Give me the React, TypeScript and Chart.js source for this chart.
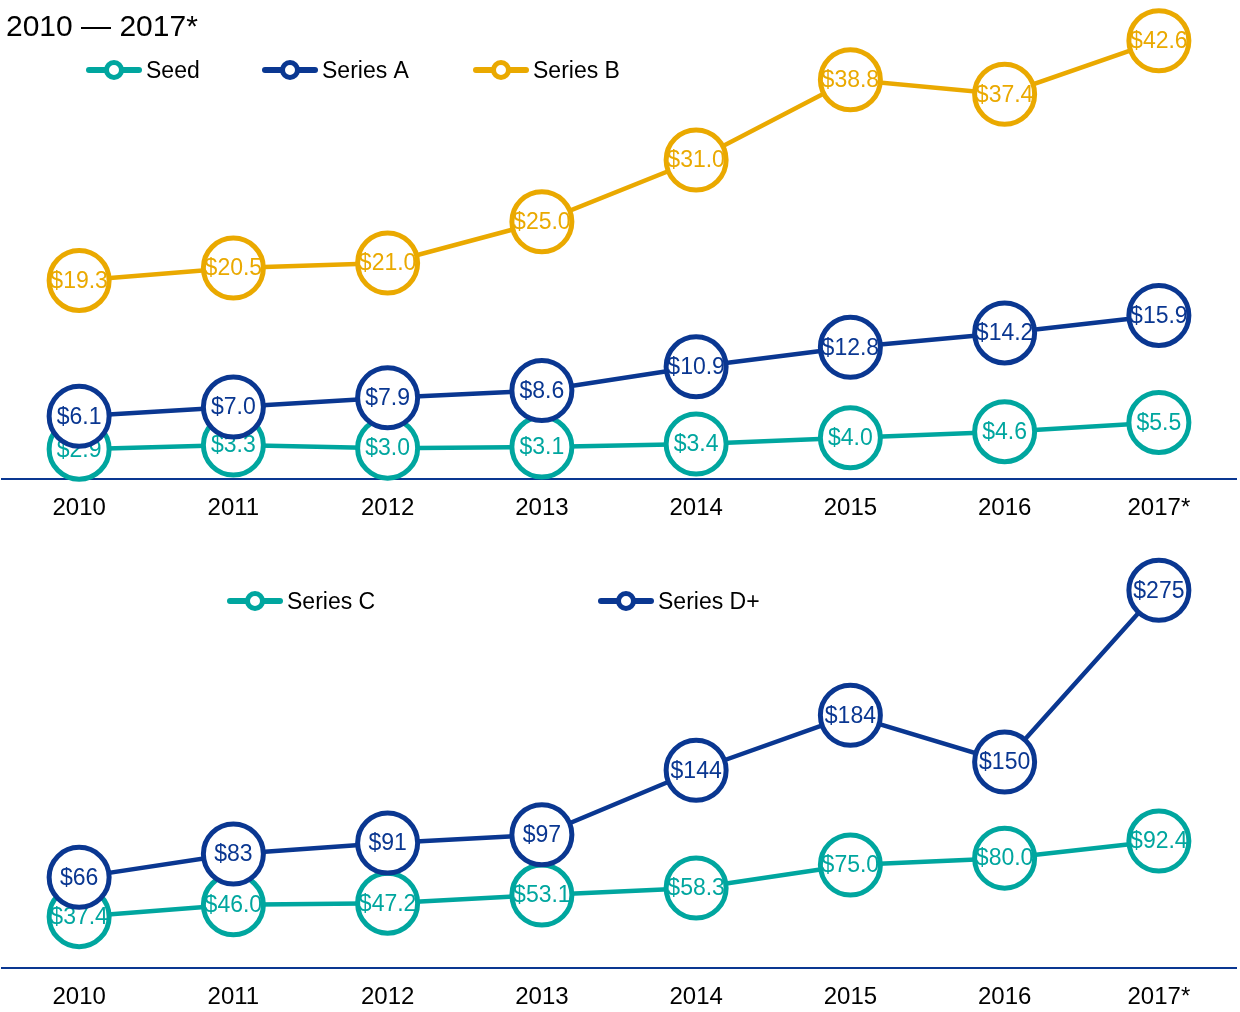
import React, { useEffect, useRef } from "react";
import { Chart, registerables } from "chart.js";

Chart.register(...registerables);

// ---------- data ----------
const years = ["2010", "2011", "2012", "2013", "2014", "2015", "2016", "2017*"];
const seedValues = [2.9, 3.3, 3.0, 3.1, 3.4, 4.0, 4.6, 5.5];
const seriesAValues = [6.1, 7.0, 7.9, 8.6, 10.9, 12.8, 14.2, 15.9];
const seriesBValues = [19.3, 20.5, 21.0, 25.0, 31.0, 38.8, 37.4, 42.6];
const seriesCValues = [37.4, 46.0, 47.2, 53.1, 58.3, 75.0, 80.0, 92.4];
const seriesDValues = [66, 83, 91, 97, 144, 184, 150, 275];
const titleText = "2010 — 2017*";

const TEAL = "#00a69f";
const NAVY = "#0a3791";
const GOLD = "#eaa900";
const FONT = "'Liberation Sans', Arial, Helvetica, sans-serif";

const fmt1 = (v: number) => `$${v.toFixed(1)}`;
const fmt0 = (v: number) => `$${Math.round(v)}`;

type LegendItem = { label: string; color: string; cx: number };

const decorPlugin = {
  id: "decor",
  afterDatasetDraw(chart: any, args: any) {
    const ds = chart.data.datasets[args.index];
    const fmt = ds.fmt as (v: number) => string;
    const ctx = chart.ctx;
    ctx.save();
    ctx.font = `23px ${FONT}`;
    ctx.fillStyle = ds.borderColor;
    ctx.textAlign = "center";
    ctx.textBaseline = "middle";
    args.meta.data.forEach((pt: any, i: number) => {
      ctx.fillText(fmt(ds.data[i]), pt.x, pt.y + 1);
    });
    ctx.restore();
  },
  afterDraw(chart: any, _args: any, opts: any) {
    const ctx = chart.ctx;
    ctx.save();
    if (opts.title) {
      ctx.font = `30px ${FONT}`;
      ctx.fillStyle = "#000";
      ctx.textAlign = "left";
      ctx.textBaseline = "alphabetic";
      ctx.fillText(opts.title, 6, 36);
    }
    const items: LegendItem[] = opts.items || [];
    const ly = opts.legendY;
    items.forEach((it) => {
      ctx.strokeStyle = it.color;
      ctx.lineWidth = 6;
      ctx.lineCap = "round";
      ctx.beginPath();
      ctx.moveTo(it.cx - 25, ly);
      ctx.lineTo(it.cx + 25, ly);
      ctx.stroke();
      ctx.beginPath();
      ctx.arc(it.cx, ly, 7.5, 0, Math.PI * 2);
      ctx.fillStyle = "#fff";
      ctx.fill();
      ctx.lineWidth = 5;
      ctx.stroke();
      ctx.font = `23px ${FONT}`;
      ctx.fillStyle = "#000";
      ctx.textAlign = "left";
      ctx.textBaseline = "alphabetic";
      ctx.fillText(it.label, it.cx + 32, ly + 8);
    });
    ctx.restore();
  },
};

function makeDataset(label: string, data: number[], color: string, order: number, fmt: (v: number) => string) {
  return {
    label,
    data,
    borderColor: color,
    backgroundColor: "#fff",
    pointBackgroundColor: "#fff",
    pointBorderColor: color,
    borderWidth: 4.5,
    pointRadius: 30,
    pointHoverRadius: 30,
    pointBorderWidth: 5,
    tension: 0,
    clip: false as any,
    order,
    fmt,
  } as any;
}

function Panel(props: {
  height: number;
  datasets: any[];
  yMax: number;
  padTop: number;
  axisHeight: number;
  title?: string;
  items: LegendItem[];
  legendY: number;
}) {
  const ref = useRef<HTMLCanvasElement | null>(null);
  useEffect(() => {
    if (!ref.current) return;
    const chart = new Chart(ref.current, {
      type: "line",
      data: { labels: years, datasets: props.datasets },
      options: {
        animation: false,
        responsive: false,
        devicePixelRatio: 1,
        events: [],
        layout: { autoPadding: false, padding: { top: props.padTop, left: 2, right: 4, bottom: 0 } },
        scales: {
          x: {
            type: "category",
            offset: true,
            grid: { display: false, drawTicks: false },
            border: { display: true, color: NAVY, width: 2 },
            ticks: { color: "#000", font: { size: 24, family: FONT }, padding: 15, maxRotation: 0, autoSkip: false },
            afterFit: (scale: any) => {
              scale.height = props.axisHeight;
            },
          },
          y: { display: false, min: 0, max: props.yMax },
        },
        plugins: {
          legend: { display: false },
          tooltip: { enabled: false },
          decor: { title: props.title, items: props.items, legendY: props.legendY },
        } as any,
      },
      plugins: [decorPlugin as any],
    });
    return () => chart.destroy();
  }, []);
  return <canvas ref={ref} width={1240} height={props.height} style={{ display: "block" }} />;
}

export default function App() {
  const top = [
    makeDataset("Seed", seedValues, TEAL, 3, fmt1),
    makeDataset("Series A", seriesAValues, NAVY, 2, fmt1),
    makeDataset("Series B", seriesBValues, GOLD, 1, fmt1),
  ];
  const bottom = [
    makeDataset("Series C", seriesCValues, TEAL, 2, fmt1),
    makeDataset("Series D+", seriesDValues, NAVY, 1, fmt0),
  ];
  return (
    <div style={{ position: "absolute", left: 0, top: 0, width: 1240, height: 1012, background: "#fff" }}>
      <Panel
        height={530}
        datasets={top}
        yMax={45}
        padTop={16}
        axisHeight={51}
        title={titleText}
        legendY={70}
        items={[
          { label: "Seed", color: TEAL, cx: 114 },
          { label: "Series A", color: NAVY, cx: 290 },
          { label: "Series B", color: GOLD, cx: 501 },
        ]}
      />
      <Panel
        height={482}
        datasets={bottom}
        yMax={300}
        padTop={26}
        axisHeight={44}
        legendY={71}
        items={[
          { label: "Series C", color: TEAL, cx: 255 },
          { label: "Series D+", color: NAVY, cx: 626 },
        ]}
      />
    </div>
  );
}
